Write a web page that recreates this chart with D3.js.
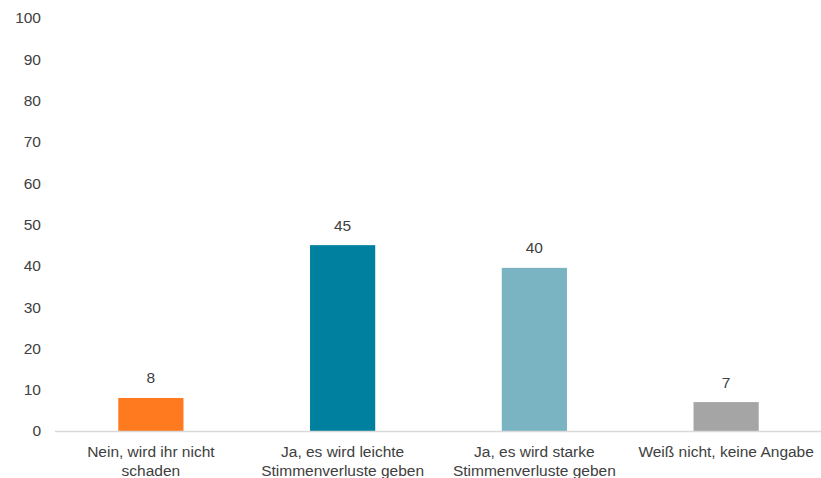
<!DOCTYPE html>
<html lang="de">
<head>
<meta charset="UTF-8">
<title>Chart</title>
<script src="https://cdn.jsdelivr.net/npm/d3@7.9.0/dist/d3.min.js"></script>
<style>
  html, body { margin: 0; padding: 0; background: #fff; }
  svg { display: block; font-family: "Liberation Sans", Arial, sans-serif; }
</style>
</head>
<body>
<div id="chart"></div>
<script>
const categories = [
  ["Nein, wird ihr nicht", "schaden"],
  ["Ja, es wird leichte", "Stimmenverluste geben"],
  ["Ja, es wird starke", "Stimmenverluste geben"],
  ["Weiß nicht, keine Angabe"]
];
const values = [8, 45, 39.5, 7];
const labels = ["8", "45", "40", "7"];
const colors = ["#FF7A1F", "#00809F", "#7AB4C3", "#A5A5A5"];
const yTicks = [0, 10, 20, 30, 40, 50, 60, 70, 80, 90, 100];

const chartW = 821, chartH = 478;
const plotLeft = 55, plotRight = 822, plotTop = 18, plotBottom = 431;
const fontSize = 15.5;

const svg = d3.select("#chart").append("svg")
  .attr("width", chartW)
  .attr("height", chartH);

const x = d3.scaleBand()
  .domain(d3.range(categories.length))
  .range([plotLeft, plotRight])
  .paddingInner(0.66)
  .paddingOuter(0.33);

const y = d3.scaleLinear().domain([0, 100]).range([plotBottom, plotTop]);

// y tick labels (no axis line, no ticks)
svg.append("g")
  .selectAll("text")
  .data(yTicks)
  .enter().append("text")
  .attr("x", 41)
  .attr("y", d => y(d))
  .attr("dy", "0.35em")
  .attr("text-anchor", "end")
  .attr("font-size", fontSize)
  .attr("fill", "#404040")
  .text(d => d);

// bars
svg.append("g")
  .selectAll("rect")
  .data(values)
  .enter().append("rect")
  .attr("x", (d, i) => x(i))
  .attr("y", d => y(d))
  .attr("width", x.bandwidth())
  .attr("height", d => y(0) - y(d))
  .attr("fill", (d, i) => colors[i]);

// baseline
svg.append("line")
  .attr("x1", plotLeft).attr("x2", chartW)
  .attr("y1", y(0) + 0.5).attr("y2", y(0) + 0.5)
  .attr("stroke", "#D9D9D9")
  .attr("stroke-width", 1.5);

// value labels
svg.append("g")
  .selectAll("text")
  .data(values)
  .enter().append("text")
  .attr("x", (d, i) => x(i) + x.bandwidth() / 2)
  .attr("y", d => y(d) - 14.5)
  .attr("text-anchor", "middle")
  .attr("font-size", fontSize)
  .attr("fill", "#404040")
  .text((d, i) => labels[i]);

// category labels
const cat = svg.append("g")
  .selectAll("text")
  .data(categories)
  .enter().append("text")
  .attr("text-anchor", "middle")
  .attr("font-size", fontSize)
  .attr("fill", "#404040")
  .attr("x", (d, i) => x(i) + x.bandwidth() / 2)
  .attr("y", 456.5);

cat.each(function(d, i) {
  const t = d3.select(this);
  d.forEach((line, j) => {
    t.append("tspan")
      .attr("x", x(i) + x.bandwidth() / 2)
      .attr("dy", j === 0 ? 0 : 19)
      .text(line);
  });
});
</script>
</body>
</html>
